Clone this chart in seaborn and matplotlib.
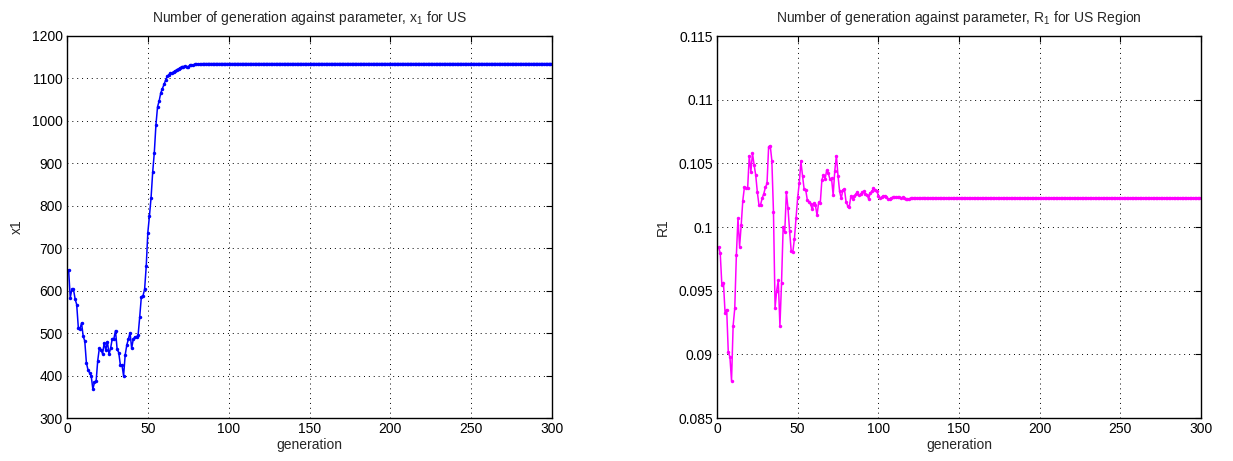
import numpy as np
import pandas as pd
import matplotlib
matplotlib.use("Agg")
import matplotlib.pyplot as plt
import seaborn as sns
from matplotlib.ticker import FuncFormatter, MultipleLocator

sns.set_style("white")
plt.rcParams["font.family"] = ["Liberation Sans", "DejaVu Sans"]
plt.rcParams["mathtext.default"] = "regular"

# ---- data -------------------------------------------------------------
# x1 per generation (GA run, US); the search settles on a plateau after ~gen 85
x1_early = [649, 583, 603, 603, 581, 567, 513, 510, 524, 493,
            481, 430, 413, 406, 398, 368, 384, 386, 435, 464,
            461, 451, 477, 460, 480, 450, 465, 487, 487, 506,
            462, 454, 425, 425, 399, 449, 472, 487, 501, 464,
            486, 491, 491, 496, 539, 586, 588, 603, 657, 737,
            776, 819, 879, 925, 990, 1033, 1047, 1066, 1076, 1086,
            1096, 1105, 1109, 1112, 1113, 1116, 1118, 1121, 1123, 1125,
            1128, 1128, 1129, 1126, 1128, 1131, 1131, 1132, 1133, 1133,
            1134, 1134, 1134, 1135, 1135]
x1_settled = 1135.0

# R1 per generation (GA run, US region)
r1_early = [0.0984, 0.09796, 0.09546, 0.09564, 0.09325, 0.09352, 0.09015, 0.0898, 0.08792, 0.09225,
            0.0936, 0.09777, 0.10069, 0.09846, 0.10016, 0.10208, 0.10313, 0.10308, 0.10306, 0.1056,
            0.10434, 0.10579, 0.10487, 0.10408, 0.10274, 0.10174, 0.10174, 0.10227, 0.10261, 0.10311,
            0.10342, 0.10631, 0.10639, 0.10521, 0.10119, 0.09365, 0.09501, 0.0958, 0.09223, 0.09562,
            0.09998, 0.09961, 0.10271, 0.10148, 0.09969, 0.09809, 0.09804, 0.09909, 0.10074, 0.10232,
            0.10345, 0.10516, 0.10403, 0.10298, 0.1029, 0.10211, 0.102, 0.1018, 0.1014, 0.10185,
            0.1017, 0.10093, 0.10193, 0.10185, 0.10369, 0.10408, 0.10376, 0.10447, 0.10421, 0.10376,
            0.10382, 0.1025, 0.10442, 0.1056, 0.10403, 0.10279, 0.10224, 0.1029, 0.10295, 0.10198,
            0.10166, 0.10158, 0.10245, 0.10219, 0.10245, 0.10258, 0.10271, 0.1025, 0.10258, 0.10271,
            0.10279, 0.10258, 0.10253, 0.10219, 0.10269, 0.10279, 0.10306, 0.10292, 0.10285, 0.10245,
            0.10224, 0.10232, 0.10242, 0.10245, 0.10237, 0.10219, 0.10221, 0.10224, 0.10232, 0.10232,
            0.10237, 0.10232, 0.10232, 0.10227, 0.10232, 0.10224, 0.10219, 0.10219, 0.10222, 0.10225,
            0.10227, 0.10229, 0.10226, 0.10228, 0.10229, 0.10227, 0.10228, 0.10231, 0.10229, 0.10226,
            0.10227, 0.10229, 0.10230, 0.10228, 0.10227, 0.10229, 0.10228, 0.10230, 0.10229, 0.10228]
r1_settled = 0.10229

n_generations = 300
generation = np.arange(1, n_generations + 1)
x1 = np.concatenate([x1_early, np.full(n_generations - len(x1_early), x1_settled)])
r1 = np.concatenate([r1_early, np.full(n_generations - len(r1_early), r1_settled)])

df_x1 = pd.DataFrame({"generation": generation, "x1": x1})
df_r1 = pd.DataFrame({"generation": generation, "R1": r1})

# ---- figure -----------------------------------------------------------
fig = plt.figure(figsize=(12.33, 4.61), dpi=100)
ax1 = fig.add_axes([67 / 1233, 1 - 418 / 461, 485 / 1233, 382 / 461])
ax2 = fig.add_axes([717 / 1233, 1 - 418 / 461, 484 / 1233, 382 / 461])

sns.lineplot(data=df_x1, x="generation", y="x1", ax=ax1, color="#0000ff",
             marker=".", markersize=5, markeredgewidth=0, linewidth=1.1)
sns.lineplot(data=df_r1, x="generation", y="R1", ax=ax2, color="#ff00ff",
             marker=".", markersize=5, markeredgewidth=0, linewidth=1.1)

fmt_g = FuncFormatter(lambda v, p: f"{v:g}")

def style_axes(ax, ylim, ystep, title, ylabel):
    ax.set_xlim(0, 300)
    ax.set_ylim(*ylim)
    ax.xaxis.set_major_locator(MultipleLocator(50))
    ax.yaxis.set_major_locator(MultipleLocator(ystep))
    ax.yaxis.set_major_formatter(fmt_g)
    ax.xaxis.set_major_formatter(fmt_g)
    ax.grid(True, linestyle=(0, (1, 4)), color="black", linewidth=0.7)
    ax.tick_params(direction="in", top=True, right=True, length=4,
                   width=0.8, labelsize=10, pad=3, colors="black")
    for s in ax.spines.values():
        s.set_color("black")
        s.set_linewidth(1.0)
    ax.set_title(title, fontsize=10, pad=10)
    ax.set_xlabel("generation", fontsize=10, labelpad=1)
    ax.set_ylabel(ylabel, fontsize=10, labelpad=6)

style_axes(ax1, (300, 1200), 100,
           r"Number of generation against parameter, $x_1$ for US", "x1")
style_axes(ax2, (0.085, 0.115), 0.005,
           r"Number of generation against parameter, $R_1$ for US Region", "R1")

fig.savefig("out.png", dpi=100)
